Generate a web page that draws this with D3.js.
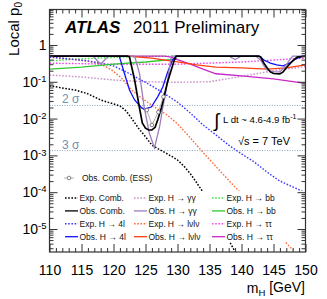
<!DOCTYPE html>
<html>
<head>
<meta charset="utf-8">
<script src="https://cdn.jsdelivr.net/npm/d3@7"></script>
<style>
body { margin: 0; background: #fff; }
text { font-family: "Liberation Sans", Arial, sans-serif; }
</style>
</head>
<body>
<div id="chart"></div>
<script>
// ---- data (mass in GeV, local p0) ----
var expCombM = [110, 112, 114, 116, 118, 120, 121, 122, 123, 124, 125, 126, 127, 128, 129, 130, 131, 132, 133, 134, 135, 136, 137, 138, 139];
var expCombP = [0.078, 0.068, 0.06, 0.047, 0.032, 0.025, 0.022, 0.016, 0.0092, 0.0052, 0.0032, 0.0019, 0.0015, 0.0012, 0.00096, 0.00075, 0.00051, 0.00032, 0.00018, 0.0001, 4.8e-5, 2.2e-5, 1.07e-5, 5e-6, 2.4e-6];

var obsCombM = [110, 122.2, 122.5, 123.3, 124, 124.5, 125, 125.5, 126, 126.5, 126.9, 127.5, 128.4, 129.5, 129.8, 142.6, 143, 143.5, 144, 144.5, 145, 146, 146.5, 147, 147.5, 148, 148.7, 150];
var obsCombP = [0.5, 0.5, 0.47, 0.112, 0.022, 0.0076, 0.0055, 0.0049, 0.0049, 0.0058, 0.0092, 0.02, 0.093, 0.39, 0.5, 0.5, 0.47, 0.32, 0.24, 0.185, 0.168, 0.163, 0.185, 0.24, 0.3, 0.37, 0.47, 0.5];

var essM = [125.2, 126, 127, 127.8];
var essP = [0.017, 0.0067, 0.015, 0.039];

var exp4lM = [110, 113, 116, 118, 120, 122, 124, 126, 128, 130, 132, 134, 136, 138, 140, 142, 144, 146, 148, 150];
var exp4lP = [0.47, 0.42, 0.37, 0.32, 0.27, 0.185, 0.12, 0.077, 0.047, 0.028, 0.0142, 0.0067, 0.0036, 0.0019, 0.0011, 0.00066, 0.00035, 0.0002, 0.00014, 9.6e-5];
var obs4lM = [110, 120.9, 121.7, 122.5, 123.3, 124.4, 124.8, 125.9, 126.9, 127.7, 128.4, 129.2, 129.8, 142.8, 143.5, 144.5, 145.5, 146.5, 147.5, 148.5, 149.5, 150];
var obs4lP = [0.5, 0.5, 0.17, 0.06, 0.032, 0.0195, 0.018, 0.0206, 0.039, 0.072, 0.17, 0.39, 0.5, 0.5, 0.39, 0.32, 0.286, 0.27, 0.32, 0.42, 0.5, 0.5];

var expGGM = [110, 115, 120, 125, 130, 135, 140, 145, 150];
var expGGP = [0.153, 0.135, 0.112, 0.1, 0.097, 0.1, 0.14, 0.2, 0.26];
var obsGGM = [110, 116.8, 118, 119.2, 123.3, 124.06, 124.8, 125.6, 126.4, 127.2, 127.7, 128.3, 128.75, 129.06, 138, 139, 140, 142.2, 143, 143.5, 144, 145, 146, 147, 147.5, 148, 150];
var obsGGP = [0.5, 0.5, 0.3, 0.5, 0.5, 0.17, 0.02, 0.004, 0.0016, 0.006, 0.02, 0.072, 0.25, 0.5, 0.5, 0.4, 0.5, 0.5, 0.39, 0.27, 0.21, 0.185, 0.185, 0.29, 0.39, 0.5, 0.5];

var expWWM = [110, 114, 116, 118, 119.7, 121.25, 122.8, 124.4, 126.4, 128.4, 130, 132, 134, 136, 138, 140, 142, 144, 146, 148];
var expWWP = [0.47, 0.4, 0.36, 0.3, 0.21, 0.127, 0.06, 0.036, 0.0206, 0.0125, 0.0072, 0.003, 0.0012, 0.0005, 0.00021, 9e-5, 3.7e-5, 1.5e-5, 6.4e-6, 2.7e-6];
var obsWWM = [110, 122.5, 124, 126, 128, 130, 133, 136, 140, 144, 147, 150];
var obsWWP = [0.5, 0.5, 0.47, 0.44, 0.39, 0.345, 0.286, 0.25, 0.24, 0.22, 0.24, 0.286];

var expBBM = [110, 115, 120, 125, 130];
var expBBP = [0.37, 0.42, 0.46, 0.49, 0.5];
var obsBBM = [110, 115, 120, 125, 130];
var obsBBP = [0.22, 0.25, 0.3, 0.345, 0.42];

var expTTM = [110, 120, 130, 140, 150];
var expTTP = [0.32, 0.3, 0.3, 0.345, 0.44];
var obsTTM = [110, 128, 129, 130, 132, 134, 136, 140, 145, 150];
var obsTTP = [0.5, 0.5, 0.47, 0.4, 0.3, 0.22, 0.165, 0.145, 0.12, 0.09];

var sigmaP = [0.02275, 0.00135];
var sigmaLabels = ["2 σ", "3 σ"];

var xMajor = [110, 115, 120, 125, 130, 135, 140, 145, 150];
var yMajor = [1e-5, 1e-4, 1e-3, 1e-2, 1e-1, 1];
var yLabelExp = ["-5", "-4", "-3", "-2", "-1", ""];

var legendLabels = [
  ["Exp. Comb.", "Obs. Comb.", "Exp. H → 4l", "Obs. H → 4l"],
  ["Exp. H → γγ", "Obs. H → γγ", "Exp. H → lνlν", "Obs. H → lνlν"],
  ["Exp. H → bb", "Obs. H → bb", "Exp. H → ττ", "Obs. H → ττ"]
];

// ---- layout ----
var W = 327, H = 299;
var margin = {top: 9.5, right: 21.5, bottom: 47, left: 49.5};
var x = d3.scaleLinear().domain([110, 150]).range([margin.left, W - margin.right]);
var y = d3.scaleLog().domain([2.37e-6, 9.2]).range([H - margin.bottom, margin.top]);
var pL = x.range()[0], pR = x.range()[1], pT = y.range()[1], pB = y.range()[0];

var col = {
  comb: "#000000", l4: "#1010ff", l4e: "#3a3aff",
  gg: "#9c7cbc", gge: "#c890c8",
  ww: "#ff4010", wwe: "#ff6a3a",
  bb: "#30c830", bbe: "#44e044",
  tt: "#c828c8", tte: "#ee48ee"
};
var DOT = "1.6,1.6";

var curves = [
  {m: expGGM, p: expGGP, c: col.gge, dash: DOT, w: 1.4},
  {m: expTTM, p: expTTP, c: col.tte, dash: DOT, w: 1.4},
  {m: expBBM, p: expBBP, c: col.bbe, dash: DOT, w: 1.4},
  {m: expWWM, p: expWWP, c: col.wwe, dash: DOT, w: 1.4},
  {m: exp4lM, p: exp4lP, c: col.l4e, dash: DOT, w: 1.4},
  {m: expCombM, p: expCombP, c: col.comb, dash: DOT, w: 1.5},
  {m: obsBBM, p: obsBBP, c: col.bb, dash: null, w: 1.3},
  {m: obsTTM, p: obsTTP, c: col.tt, dash: null, w: 1.3},
  {m: obsWWM, p: obsWWP, c: col.ww, dash: null, w: 1.3},
  {m: obs4lM, p: obs4lP, c: col.l4, dash: null, w: 1.3},
  {m: obsGGM, p: obsGGP, c: col.gg, dash: null, w: 1.3},
  {m: obsCombM, p: obsCombP, c: col.comb, dash: null, w: 1.7}
];

var svg = d3.select("#chart").append("svg")
    .attr("width", W)
    .attr("height", H);

svg.append("defs").append("clipPath").attr("id", "plotclip")
  .append("rect")
    .attr("x", pL).attr("y", pT)
    .attr("width", pR - pL).attr("height", pB - pT);

var plot = svg.append("g").attr("clip-path", "url(#plotclip)");

// sigma lines
sigmaP.forEach(function(p) {
  plot.append("line")
    .attr("x1", pL).attr("x2", pR)
    .attr("y1", y(p)).attr("y2", y(p))
    .attr("stroke", "#8ea6c0")
    .attr("stroke-width", 1)
    .attr("stroke-dasharray", "1,1.5");
});
sigmaP.forEach(function(p, i) {
  svg.append("text")
    .attr("x", 62).attr("y", y(p) - 2)
    .attr("fill", "#7590ae")
    .style("font-size", "12px")
    .text(sigmaLabels[i]);
});

var line = d3.line()
    .x(function(d) { return x(d[0]); })
    .y(function(d) { return y(d[1]); });

curves.forEach(function(cv) {
  plot.append("path")
    .attr("d", line(d3.zip(cv.m, cv.p)))
    .attr("fill", "none")
    .attr("stroke", cv.c)
    .attr("stroke-width", cv.w)
    .attr("stroke-dasharray", cv.dash);
});

// ESS observed points
plot.append("path")
  .attr("d", line(d3.zip(essM, essP)))
  .attr("fill", "none")
  .attr("stroke", "#a0a0a0")
  .attr("stroke-width", 0.8);
plot.selectAll(".ess").data(d3.zip(essM, essP)).enter().append("circle")
  .attr("cx", function(d) { return x(d[0]); })
  .attr("cy", function(d) { return y(d[1]); })
  .attr("r", 1.8)
  .attr("fill", "#fff")
  .attr("stroke", "#666")
  .attr("stroke-width", 0.8);

// legend box (covers curves)
svg.append("rect")
  .attr("x", 60).attr("y", 191)
  .attr("width", 245).attr("height", 51)
  .attr("fill", "#fff");

var legendCols = [65, 134, 212];
var legendStyles = [
  [[col.comb, DOT], [col.comb, null], [col.l4e, DOT], [col.l4, null]],
  [[col.gge, DOT], [col.gg, null], [col.wwe, DOT], [col.ww, null]],
  [[col.bbe, DOT], [col.bb, null], [col.tte, DOT], [col.tt, null]]
];
legendLabels.forEach(function(labels, ci) {
  labels.forEach(function(lab, ri) {
    var ly = 198 + ri * 12.9;
    var st = legendStyles[ci][ri];
    svg.append("line")
      .attr("x1", legendCols[ci]).attr("x2", legendCols[ci] + 13)
      .attr("y1", ly).attr("y2", ly)
      .attr("stroke", st[0])
      .attr("stroke-width", st[1] ? 1.4 : 1.3)
      .attr("stroke-dasharray", st[1]);
    svg.append("text")
      .attr("x", legendCols[ci] + 14.5).attr("y", ly + 3)
      .style("font-size", "8.5px")
      .attr("fill", "#111")
      .text(lab);
  });
});

// ESS legend entry
svg.append("line")
  .attr("x1", 64).attr("x2", 74).attr("y1", 178).attr("y2", 178)
  .attr("stroke", "#a0a0a0").attr("stroke-width", 0.8);
svg.append("circle")
  .attr("cx", 69).attr("cy", 178).attr("r", 1.8)
  .attr("fill", "#fff").attr("stroke", "#666").attr("stroke-width", 0.8);
svg.append("text")
  .attr("x", 82).attr("y", 181)
  .style("font-size", "8.5px")
  .attr("fill", "#111")
  .text("Obs. Comb. (ESS)");

// ---- axes ----
var xMinor = d3.range(110, 151, 1).filter(function(v) { return v % 5 !== 0; });
var yMinor = [];
for (var e = -6; e <= 0; e++) {
  for (var k = 2; k <= 9; k++) {
    var v = k * Math.pow(10, e);
    if (v > y.domain()[0] && v < y.domain()[1]) yMinor.push(v);
  }
}

function clean(g) {
  g.select(".domain").remove();
  g.selectAll(".tick line").attr("stroke", "#333");
}

svg.append("g")
  .attr("transform", "translate(0," + pB + ")")
  .call(d3.axisBottom(x).tickValues(xMajor).tickSize(-8).tickPadding(13).tickFormat(d3.format("d")))
  .call(clean)
  .selectAll("text").style("font-size", "14px").attr("fill", "#000");
svg.append("g")
  .attr("transform", "translate(0," + pB + ")")
  .call(d3.axisBottom(x).tickValues(xMinor).tickSize(-4).tickFormat(""))
  .call(clean);
svg.append("g")
  .attr("transform", "translate(0," + pT + ")")
  .call(d3.axisTop(x).tickValues(xMajor).tickSize(-8).tickFormat(""))
  .call(clean);
svg.append("g")
  .attr("transform", "translate(0," + pT + ")")
  .call(d3.axisTop(x).tickValues(xMinor).tickSize(-4).tickFormat(""))
  .call(clean);

var yAxisG = svg.append("g")
  .attr("transform", "translate(" + pL + ",0)")
  .call(d3.axisLeft(y).tickValues(yMajor).tickSize(-8).tickPadding(3).tickFormat(""))
  .call(clean);
yAxisG.selectAll(".tick text").each(function(d, i) {
  var t = d3.select(this).style("font-size", "14px").attr("fill", "#000");
  if (d === 1) { t.text("1"); return; }
  t.append("tspan").text("10");
  t.append("tspan").attr("dy", "-0.5em").style("font-size", "9.5px").text(yLabelExp[i]);
});
svg.append("g")
  .attr("transform", "translate(" + pL + ",0)")
  .call(d3.axisLeft(y).tickValues(yMinor).tickSize(-4).tickFormat(""))
  .call(clean);
svg.append("g")
  .attr("transform", "translate(" + pR + ",0)")
  .call(d3.axisRight(y).tickValues(yMajor).tickSize(-8).tickFormat(""))
  .call(clean);
svg.append("g")
  .attr("transform", "translate(" + pR + ",0)")
  .call(d3.axisRight(y).tickValues(yMinor).tickSize(-4).tickFormat(""))
  .call(clean);

// frame
svg.append("rect")
  .attr("x", pL).attr("y", pT)
  .attr("width", pR - pL).attr("height", pB - pT)
  .attr("fill", "none")
  .attr("stroke", "#333")
  .attr("stroke-width", 1.2);

// ---- titles and labels ----
var ylab = svg.append("text")
  .attr("transform", "translate(19,2) rotate(-90)")
  .attr("text-anchor", "end")
  .style("font-size", "15px");
ylab.append("tspan").text("Local p");
ylab.append("tspan").attr("dy", "0.3em").style("font-size", "10px").text("0");

var xlab = svg.append("text")
  .attr("x", 305).attr("y", 293)
  .attr("text-anchor", "end")
  .style("font-size", "14px");
xlab.append("tspan").text("m");
xlab.append("tspan").attr("dy", "0.3em").style("font-size", "9.5px").text("H");
xlab.append("tspan").attr("dy", "-0.3em").text(" [GeV]");

svg.append("text")
  .attr("x", 65).attr("y", 33)
  .style("font-size", "17px")
  .style("font-weight", "bold")
  .style("font-style", "italic")
  .text("ATLAS");
svg.append("text")
  .attr("x", 133).attr("y", 33)
  .style("font-size", "17px")
  .text("2011 Preliminary");

svg.append("text")
  .attr("x", 214).attr("y", 127)
  .style("font-size", "19px")
  .text("∫");
var lumi = svg.append("text")
  .attr("x", 223).attr("y", 123)
  .style("font-size", "9.6px");
lumi.append("tspan").text("L dt ~ 4.6-4.9 fb");
lumi.append("tspan").attr("dy", "-0.55em").style("font-size", "7px").text("-1");

svg.append("text")
  .attr("x", 238).attr("y", 145)
  .style("font-size", "11px")
  .text("√s = 7 TeV");
</script>
</body>
</html>
